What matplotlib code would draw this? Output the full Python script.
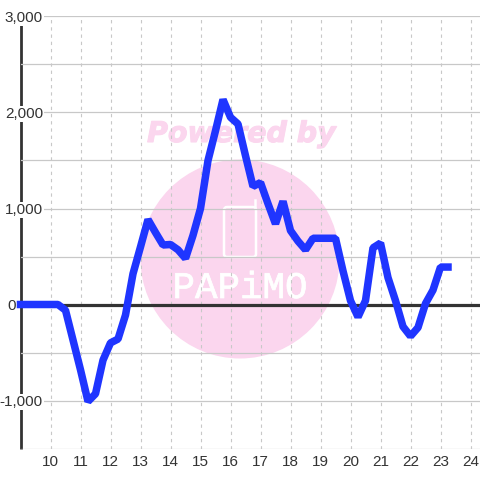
import matplotlib
matplotlib.use('Agg')
import matplotlib.pyplot as plt
from matplotlib import patheffects
from matplotlib.patches import Circle, FancyBboxPatch
from matplotlib.transforms import ScaledTranslation

# 15 minute readings starting at 9:00
HOURS = [9 + i / 4 for i in range(58)]
VALUES = [0, 0, 0, 0, 0, 0, -60, -370, -680, -1010, -930, -580, -400, -360, -110, 320,
          600, 885, 750, 620, 625, 570, 480, 720, 1000, 1500, 1810, 2135, 1950, 1880,
          1550, 1230, 1270, 1050, 840, 1075, 770, 660, 570, 690, 690, 690, 690, 350,
          40, -130, 40, 590, 640, 280, 40, -230, -330, -240, 10, 150, 390, 390]
X_TICKS = list(range(10, 25))
Y_MAJOR = [-1000, 0, 1000, 2000, 3000]
Y_MINOR = [-1500, -500, 500, 1500, 2500]


def y_label(value):
    return f'{value:,}'


def main():
    plt.rcParams['font.family'] = ['Liberation Sans', 'DejaVu Sans']
    fig = plt.figure(figsize=(4.8, 4.8), dpi=100)
    ax = fig.add_axes([20.5 / 480, (480 - 448.5) / 480, 459.5 / 480, 432 / 480])
    ax.set_xlim(9, 9 + 459.5 / 30)
    ax.set_ylim(-1500, 3000)

    # watermark goes in pixel coordinates of the figure
    bg = fig.add_axes([0, 0, 1, 1], zorder=-1)
    bg.set_xlim(0, 480)
    bg.set_ylim(480, 0)
    bg.axis('off')
    bg.add_patch(Circle((240, 259), 99.5, color='#fbd6ee', lw=0))
    powered = bg.text(241.5, 134, 'Powered by', color='#fbd6ee', fontsize=20.5, fontweight='bold',
                      fontstyle='italic', ha='center', va='center', family=['DejaVu Sans'])
    powered.set_path_effects([patheffects.withStroke(linewidth=0.8, foreground='#fbd6ee')])
    bg.add_patch(FancyBboxPatch((224, 207), 32, 50, boxstyle='round,pad=0,rounding_size=3',
                                fc='none', ec='white', lw=1.8))
    bg.plot([255, 255], [200, 207], color='white', lw=1.8)
    logo = bg.text(240, 288, 'PAPiMO', color='white', fontsize=27, ha='center', va='center',
                   family=['Liberation Mono', 'DejaVu Sans'])
    logo.set_path_effects([patheffects.withStroke(linewidth=0.5, foreground='white')])

    ax.patch.set_alpha(0)
    ax.set_xticks(X_TICKS)
    ax.set_yticks(Y_MAJOR)
    ax.set_yticks(Y_MINOR, minor=True)
    ax.set_yticklabels([y_label(v) for v in Y_MAJOR])
    ax.grid(True, axis='y', which='both', color='#c8c8c8', lw=0.9)
    ax.grid(True, axis='x', color='#c8c8c8', lw=0.8, ls=(0, (3, 3.5)))
    ax.set_axisbelow(True)
    ax.tick_params(which='both', length=0, labelsize=11, labelcolor='#333333')
    ax.tick_params(axis='x', pad=5)
    ax.tick_params(axis='y', pad=-16.2)
    for side in ['top', 'right', 'bottom']:
        ax.spines[side].set_visible(False)
    ax.spines['left'].set_color('#333333')
    ax.spines['left'].set_linewidth(2)
    ax.spines['left'].set_capstyle('butt')
    ax.spines['left'].set_zorder(0.4)
    ax.axhline(0, color='#333333', lw=2.3, zorder=2)

    ax.plot(HOURS, VALUES, color='#1f35ff', lw=5.4, zorder=3, solid_joinstyle='bevel',
            solid_capstyle='projecting', clip_on=False)

    # y labels sit over the axis line with a white backing, the 0 stays left of it
    for value, label in zip(Y_MAJOR, ax.get_yticklabels()):
        label.set_bbox(dict(fc='white', ec='none', pad=0.5))
        if value == 0:
            label.set_transform(label.get_transform() + ScaledTranslation(-27 / 100, 0, fig.dpi_scale_trans))
    fig.savefig('out.png', dpi=100)


if __name__ == '__main__':
    main()
